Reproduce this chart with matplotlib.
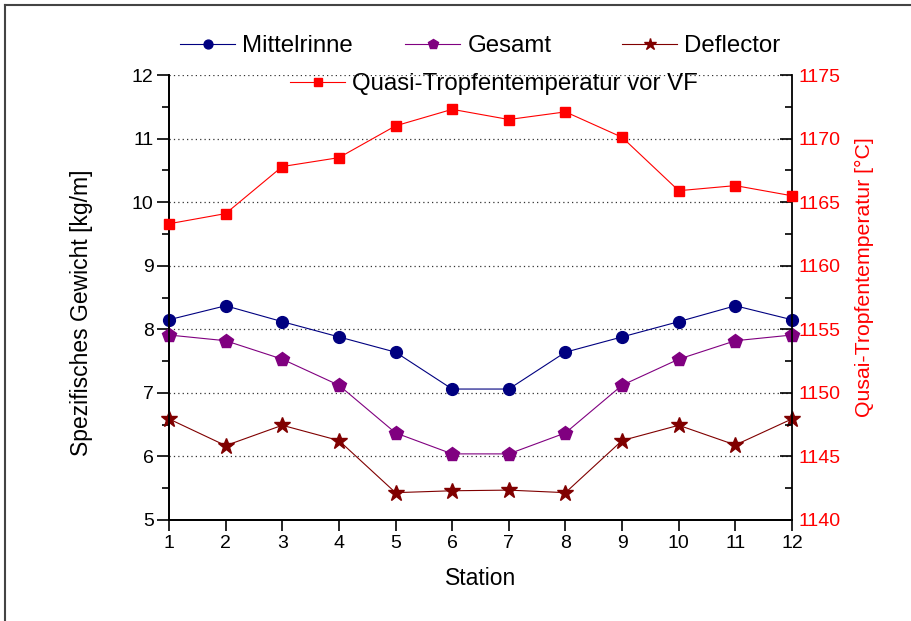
import matplotlib
matplotlib.use('Agg')
import matplotlib.pyplot as plt
from matplotlib.ticker import MultipleLocator

plt.rcParams['font.family'] = ['Liberation Sans', 'DejaVu Sans']

# data
station = [1, 2, 3, 4, 5, 6, 7, 8, 9, 10, 11, 12]
mittelrinne = [8.15, 8.37, 8.12, 7.88, 7.64, 7.06, 7.06, 7.64, 7.88, 8.12, 8.37, 8.15]
gesamt = [7.91, 7.82, 7.53, 7.12, 6.37, 6.04, 6.04, 6.37, 7.12, 7.53, 7.82, 7.91]
deflector = [6.59, 6.17, 6.49, 6.25, 5.43, 5.46, 5.47, 5.43, 6.25, 6.49, 6.18, 6.59]
temperatur = [1163.3, 1164.1, 1167.8, 1168.5, 1171.0, 1172.3,
              1171.5, 1172.1, 1170.1, 1165.9, 1166.3, 1165.5]

fig = plt.figure(figsize=(9.12, 6.21), dpi=100)
ax = fig.add_axes([169/912, 1-520/621, 623/912, 445/621])
ax2 = ax.twinx()

l1, = ax.plot(station, mittelrinne, color='#000080', lw=0.8, marker='o', ms=8.5, clip_on=False, zorder=3)
l2, = ax.plot(station, gesamt, color='#800080', lw=0.8, marker='p', ms=10, clip_on=False, zorder=3)
l3, = ax.plot(station, deflector, color='#800000', lw=0.8, marker='*', ms=12, clip_on=False, zorder=3)
l4, = ax2.plot(station, temperatur, color='#FF0000', lw=0.8, marker='s', ms=7, clip_on=False, zorder=3)

ax.set_xlim(1, 12)
ax.set_ylim(5, 12)
ax2.set_ylim(1140, 1175)
ax.set_xticks(station)
ax.yaxis.set_major_locator(MultipleLocator(1))
ax.yaxis.set_minor_locator(MultipleLocator(0.5))
ax2.yaxis.set_major_locator(MultipleLocator(5))
ax2.yaxis.set_minor_locator(MultipleLocator(2.5))

# dotted grid, but not on the axis limits
ax.grid(True, axis='y', which='major', linestyle=(0, (1, 2.5)), color='#333333', lw=0.9)
for g in ax.get_ygridlines()[:1] + ax.get_ygridlines()[-1:]:
    g.set_visible(False)

for a in (ax, ax2):
    a.spines['top'].set_visible(False)
    for s in a.spines.values():
        s.set_linewidth(1.3)
ax.spines['right'].set_visible(False)

ax.tick_params(axis='y', which='major', direction='out', length=9, width=1.2, labelsize=14, pad=2, right=False)
ax.tick_params(axis='y', which='minor', direction='out', length=5, width=1.2, right=False)
ax.tick_params(axis='x', which='major', direction='out', length=8, width=1.2, labelsize=14, pad=3, top=False)
ax2.tick_params(axis='y', which='major', direction='in', length=9, width=1.2, labelsize=14, pad=5, labelcolor='#FF0000')
ax2.tick_params(axis='y', which='minor', direction='in', length=5, width=1.2)

ax.set_xlabel('Station', fontsize=16.5)
ax.set_ylabel('Spezifisches Gewicht [kg/m]', fontsize=16.5)
ax2.set_ylabel('Qusai-Tropfentemperatur [°C]', fontsize=15.3, color='#FF0000')
ax.xaxis.set_label_coords(0.5, -0.105)
ax.yaxis.set_label_coords(-0.122, 0.465)
ax2.yaxis.set_label_coords(1.101, 0.545)

# legend entries placed like the original
legend_spots = [(l1, 'Mittelrinne', 180, 46), (l2, 'Gesamt', 405, 46),
                (l3, 'Deflector', 622, 46), (l4, 'Quasi-Tropfentemperatur vor VF', 290, 84)]
for handle, text, px, py in legend_spots:
    fig.legend([handle], [text], loc='center left', bbox_to_anchor=(px/912, 1-py/621),
               frameon=False, fontsize=17.3, handlelength=2.3, handletextpad=0.3,
               borderpad=0, borderaxespad=0, markerscale=0.75)

# frame around the picture (only top and left are inside the image)
fig.add_artist(plt.Line2D([5/912, 1], [1-5/621, 1-5/621], color='#444444', lw=1.5))
fig.add_artist(plt.Line2D([5/912, 5/912], [0, 1-5/621], color='#444444', lw=1.5))

fig.savefig('out.png', dpi=100)
